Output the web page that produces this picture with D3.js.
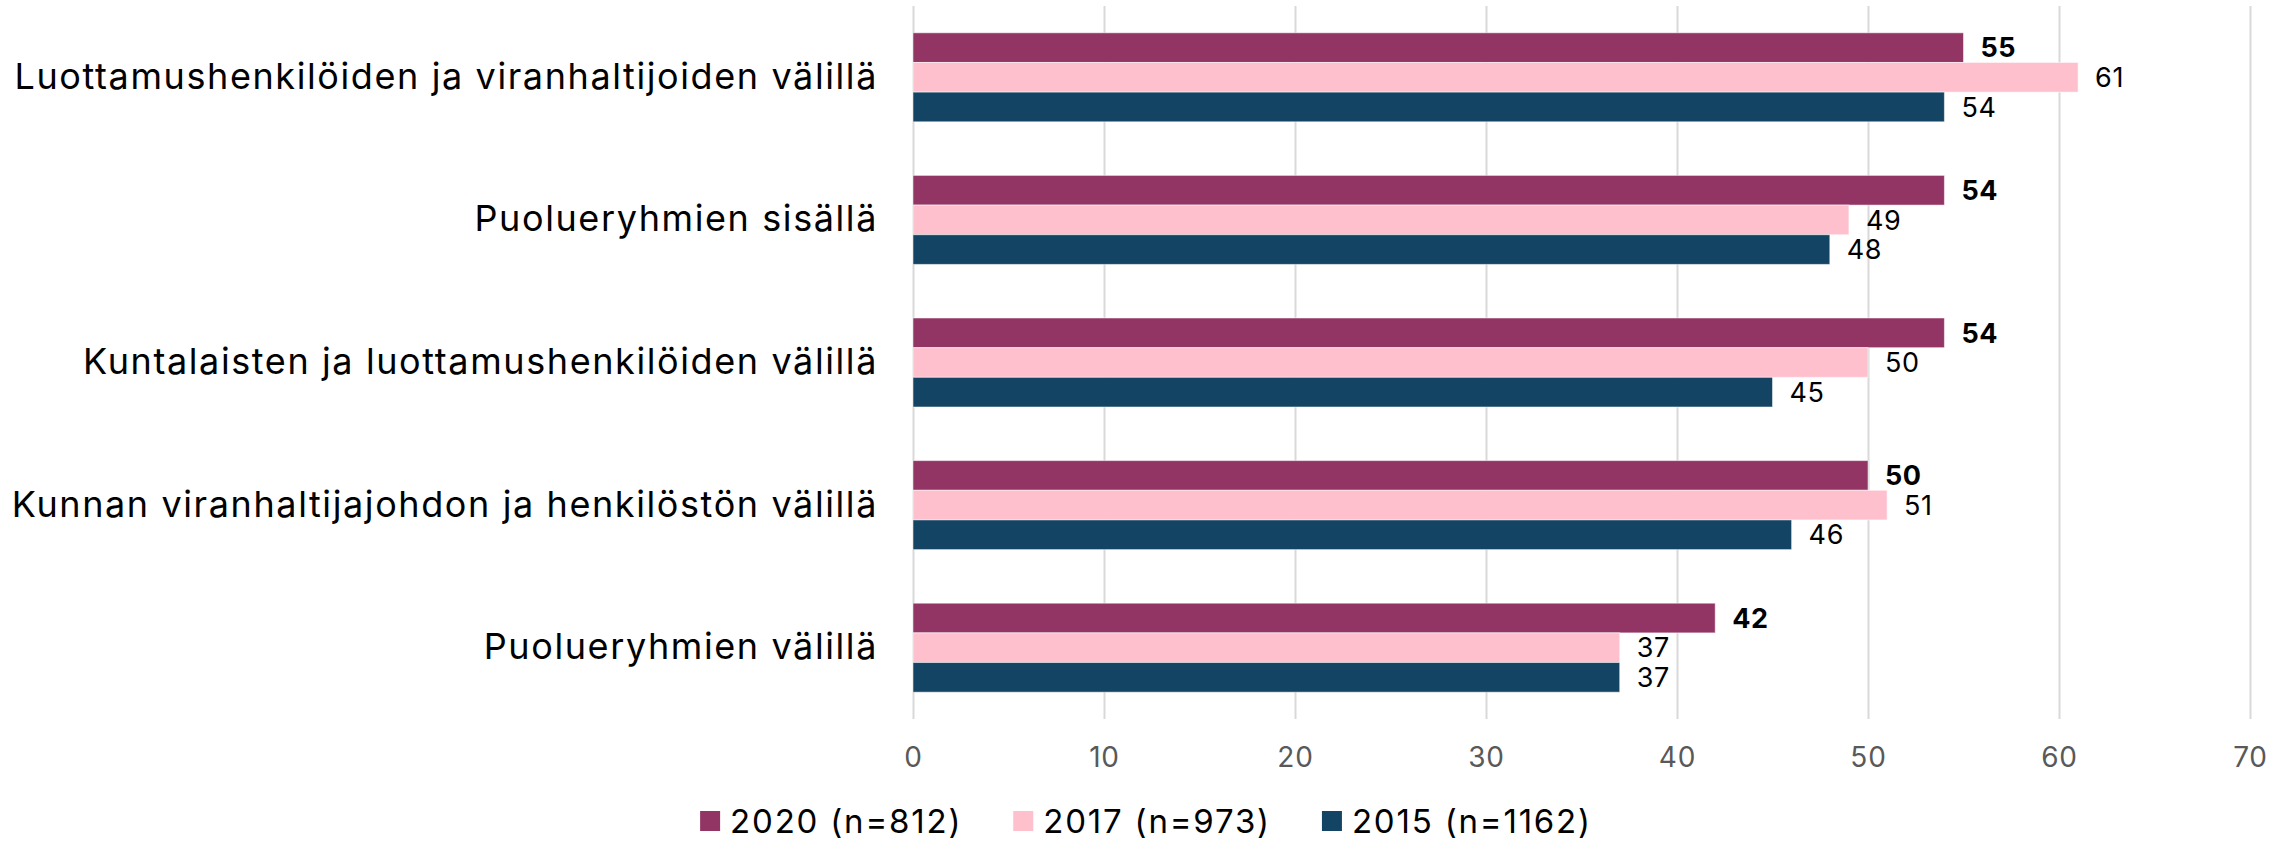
<!DOCTYPE html>
<html>
<head>
<meta charset="utf-8">
<script src="https://cdn.jsdelivr.net/npm/d3@7"></script>
<style>
  html, body { margin: 0; padding: 0; background: #fff; }
  svg { display: block; font-family: Inter, "Open Sans", sans-serif; }
</style>
</head>
<body>
<svg id="chart" width="2292" height="842"></svg>
<script>
// ---- data ----
const categories = [
  'Luottamushenkilöiden ja viranhaltijoiden välillä',
  'Puolueryhmien sisällä',
  'Kuntalaisten ja luottamushenkilöiden välillä',
  'Kunnan viranhaltijajohdon ja henkilöstön välillä',
  'Puolueryhmien välillä'
];
const seriesNames = ['2020 (n=812)', '2017 (n=973)', '2015 (n=1162)'];
const values2020 = [55, 54, 54, 50, 42];
const values2017 = [61, 49, 50, 51, 37];
const values2015 = [54, 48, 45, 46, 37];
const xTicks = [0, 10, 20, 30, 40, 50, 60, 70];

const colors = ['#923464', '#ffc0ce', '#134463'];
const series = [values2020, values2017, values2015];

const WIDTH = 2292, HEIGHT = 842;
const plot = { left: 913, right: 2250, top: 6, bottom: 719 };

const svg = d3.select('#chart');

// ---- scales ----
const x = d3.scaleLinear().domain([0, 70]).range([plot.left, plot.right]);
const y = d3.scaleBand().domain(categories).range([plot.top, plot.bottom])
  .paddingInner(0.376).paddingOuter(0.188);
const ySub = d3.scaleBand().domain(d3.range(series.length)).range([0, y.bandwidth()]);

// ---- grid ----
svg.append('g')
  .attr('transform', `translate(0,${plot.bottom})`)
  .call(d3.axisBottom(x).tickValues(xTicks).tickSize(-(plot.bottom - plot.top)).tickFormat(''))
  .call(g => g.select('.domain').remove())
  .selectAll('line').attr('stroke', '#d9d9d9').attr('stroke-width', 2);

// ---- bars ----
series.forEach((vals, si) => {
  const grp = svg.append('g');
  grp.selectAll('rect')
    .data(categories.map((c, i) => ({ c, v: vals[i] })))
    .join('rect')
    .attr('x', x(0))
    .attr('y', d => y(d.c) + ySub(si))
    .attr('width', d => x(d.v) - x(0))
    .attr('height', ySub.bandwidth())
    .attr('fill', colors[si])
    .attr('stroke', '#ffffff')
    .attr('stroke-opacity', 0.5)
    .attr('stroke-width', 1);

  grp.selectAll('text')
    .data(categories.map((c, i) => ({ c, v: vals[i] })))
    .join('text')
    .attr('x', d => x(d.v) + 17)
    .attr('y', d => y(d.c) + ySub(si) + ySub.bandwidth() / 2)
    .attr('dy', '0.36em')
    .attr('font-size', '27px')
    .attr('letter-spacing', '0.6px')
    .attr('font-weight', si === 0 ? 700 : 400)
    .attr('fill', '#000')
    .text(d => d.v);
});

// ---- category axis ----
svg.append('g')
  .attr('transform', `translate(${plot.left},0)`)
  .call(d3.axisLeft(y).tickSize(0).tickPadding(35))
  .call(g => g.select('.domain').remove())
  .selectAll('text')
  .attr('font-family', 'Inter, "Open Sans", sans-serif')
  .attr('font-size', '36px')
  .attr('letter-spacing', '1.6px')
  .attr('fill', '#000');

// ---- value axis ----
svg.append('g')
  .attr('transform', `translate(0,${plot.bottom})`)
  .call(d3.axisBottom(x).tickValues(xTicks).tickSize(0).tickPadding(28))
  .call(g => g.select('.domain').remove())
  .selectAll('text')
  .attr('font-family', 'Inter, "Open Sans", sans-serif')
  .attr('font-size', '28px')
  .attr('letter-spacing', '0.8px')
  .attr('fill', '#595959');

// ---- legend ----
const legend = svg.append('g');
const items = legend.selectAll('g').data(seriesNames).join('g');
items.append('rect')
  .attr('width', 20).attr('height', 20).attr('y', -10)
  .attr('fill', (d, i) => colors[i]);
items.append('text')
  .attr('x', 30).attr('dy', '0.36em')
  .attr('font-size', '33px').attr('letter-spacing', '1.8px').attr('fill', '#000')
  .text(d => d);
let offset = 0;
items.each(function () {
  const w = this.querySelector('text').getComputedTextLength() + 30;
  d3.select(this).attr('transform', `translate(${offset},0)`);
  offset += w + 51;
});
const legendW = offset - 51;
legend.attr('transform', `translate(${(WIDTH - legendW) / 2},821)`);
</script>
</body>
</html>
